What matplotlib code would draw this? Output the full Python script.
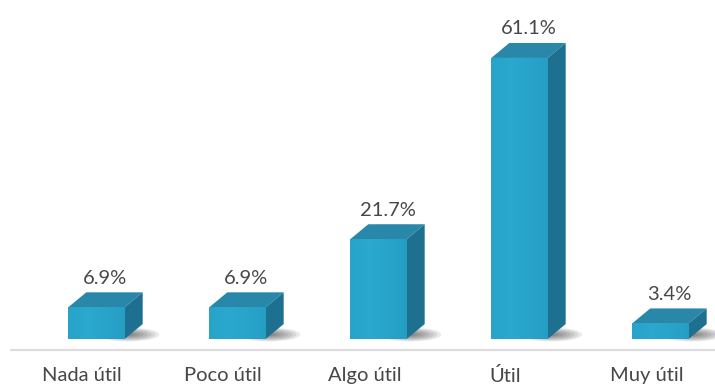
import matplotlib.pyplot as plt
import numpy as np
from matplotlib.patches import Polygon, Ellipse

categories = ["Nada útil", "Poco útil", "Algo útil", "Útil", "Muy útil"]
percentages = [6.9, 6.9, 21.7, 61.1, 3.4]

# 3D look: bar front width, depth offsets (x in category units, y in %)
bar_width = 0.40
depth_x = 0.128
depth_y = 3.25

front_color = "#28A3C8"
top_color = "#2988A9"
side_color = "#1E7090"
text_color = "#474747"

plt.rcParams['font.family'] = ['Lato', 'DejaVu Sans']

fig = plt.figure(figsize=(7.15, 3.92), dpi=100)
ax = fig.add_axes([0, 0, 1, 1])
ax.set_xlim(-0.684, 4.387)
ax.set_ylim(-11.52, 73.7)
ax.axis("off")

x = np.arange(len(categories))

# floor line
ax.plot([-0.61, 4.40], [-2.4, -2.4], color="#DCDCDC", lw=1.6, zorder=1,
        solid_capstyle="butt")

bars = ax.bar(x, percentages, width=bar_width, color=front_color, zorder=4,
              linewidth=0)

for bar, pct in zip(bars, percentages):
    x0 = bar.get_x()
    x1 = x0 + bar.get_width()
    h = bar.get_height()

    # soft shadow behind the base
    cx = x1 + depth_x * 0.2
    for k in range(8):
        s = 1 - k / 8
        ax.add_patch(Ellipse((cx, depth_y * 0.3), (bar_width * 0.8 + 0.12) * s,
                             3.0 * s, facecolor="#202020", alpha=0.09,
                             edgecolor="none", zorder=2))

    # slight shading across the front face
    grad = np.linspace(0, 1, 60)
    shade = np.clip(1 - np.abs(grad - 0.35) * 1.2, 0, 1)
    img = np.zeros((1, 60, 4))
    img[0, :, 0] = 0.14 + 0.03 * shade
    img[0, :, 1] = 0.61 + 0.05 * shade
    img[0, :, 2] = 0.76 + 0.05 * shade
    img[0, :, 3] = 1
    im = ax.imshow(img, extent=(x0, x1, 0, h), aspect="auto", zorder=5,
                   interpolation="bilinear")
    im.set_clip_path(bar)

    top = Polygon([(x0, h), (x1, h), (x1 + depth_x, h + depth_y),
                   (x0 + depth_x, h + depth_y)], closed=True,
                  facecolor=top_color, edgecolor="none", zorder=4)
    side = Polygon([(x1, 0), (x1 + depth_x, depth_y),
                    (x1 + depth_x, h + depth_y), (x1, h)], closed=True,
                   facecolor=side_color, edgecolor="none", zorder=4)
    ax.add_patch(top)
    ax.add_patch(side)

    ax.annotate(f"{pct}%", xy=(bar.get_x() + bar.get_width() / 2 + depth_x / 2,
                               h + depth_y),
                xytext=(0, 4), textcoords="offset points", ha="center",
                va="bottom", fontsize=14.5, color=text_color)

for xi, name in zip(x, categories):
    ax.text(xi - 0.1, -8.0, name, ha="center", va="center", fontsize=14.5,
            color=text_color)

fig.savefig("out.png", dpi=100)
